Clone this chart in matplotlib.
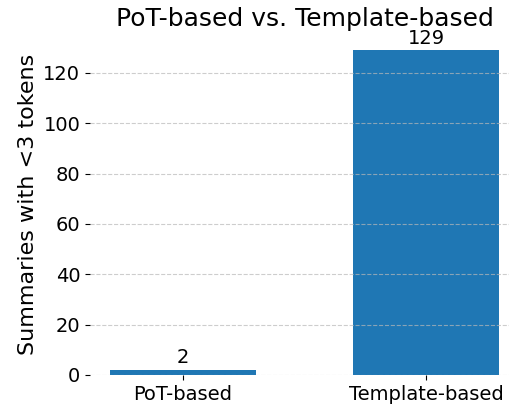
import matplotlib
matplotlib.use("Agg")
from matplotlib import pyplot as plt

categories = ["PoT-based", "Template-based"]
counts = [2, 129]

fig = plt.figure(figsize=(5.1, 4.05), dpi=100)
ax = fig.add_axes([90 / 510, 30 / 405, 429 / 510, 341 / 405])

ax.bar(categories, counts, width=0.6, color="#1f77b4")
for i, v in enumerate(counts):
    ax.text(i, v + 1, str(v), ha="center", va="bottom", fontsize=14)

ax.set_xlim(-0.38, 1.38)
ax.set_ylim(0, 135.45)
ax.set_yticks(range(0, 121, 20))
ax.grid(axis="y", linestyle="--", color="#b8b8b8", alpha=0.7)
ax.set_axisbelow(False)
for s in ax.spines.values():
    s.set_visible(False)
ax.tick_params(labelsize=14)
ax.set_ylabel("Summaries with <3 tokens", fontsize=16)
ax.set_title("PoT-based vs. Template-based", fontsize=18)

fig.savefig("out.png", dpi=100)
